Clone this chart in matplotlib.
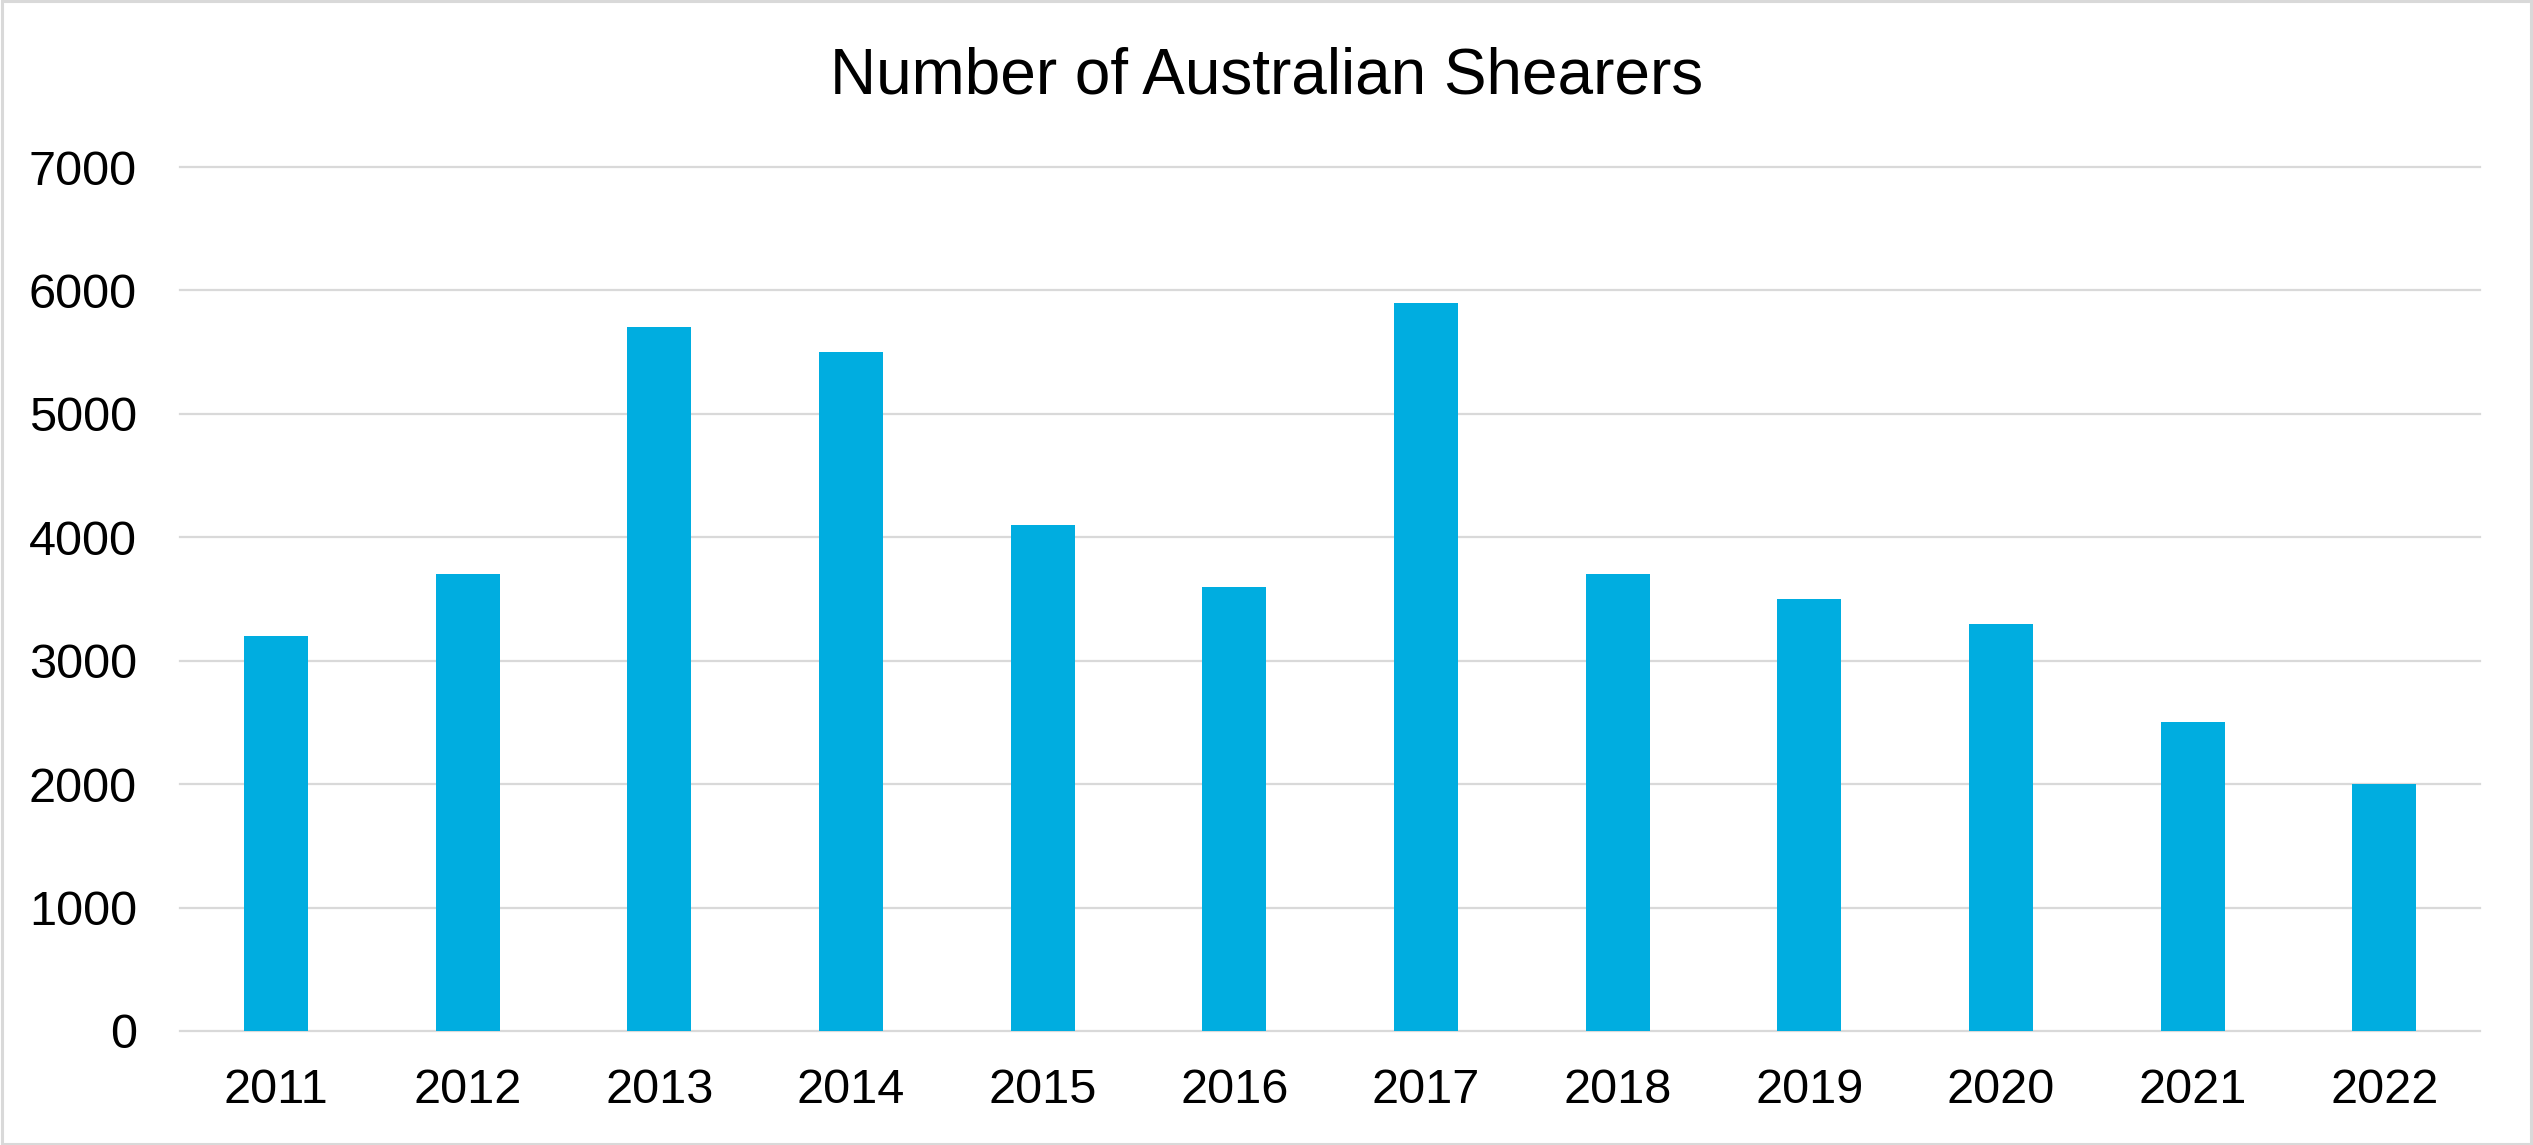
import matplotlib
matplotlib.use("Agg")
import matplotlib.pyplot as plt
from matplotlib.patches import Rectangle

years = ["2011", "2012", "2013", "2014", "2015", "2016",
         "2017", "2018", "2019", "2020", "2021", "2022"]
shearers = [3200, 3700, 5700, 5500, 4100, 3600, 5900, 3700, 3500, 3300, 2500, 2000]
y_ticks = [0, 1000, 2000, 3000, 4000, 5000, 6000, 7000]

plt.rcParams["font.family"] = ["Liberation Sans", "DejaVu Sans"]

fig = plt.figure(figsize=(25.33, 11.45), dpi=100)
ax = fig.add_axes([0.0711, 0.0996, 0.908, 0.7545])

x = list(range(len(years)))
ax.bar(x, shearers, width=1 / 3, color="#00ADE0", zorder=3)

ax.set_xlim(-0.5, len(years) - 0.5)
ax.set_ylim(0, 7000)
ax.set_yticks(y_ticks)
ax.set_yticklabels([str(v) for v in y_ticks])
ax.set_xticks(x)
ax.set_xticklabels(years)

ax.tick_params(axis="both", length=0, labelsize=35, colors="black")
ax.tick_params(axis="y", pad=31)
ax.tick_params(axis="x", pad=27)

ax.set_axisbelow(True)
ax.yaxis.grid(True, color="#D9D9D9", linewidth=1.6)
for gl in ax.get_ygridlines():
    gl.set_clip_on(False)
for s in ax.spines.values():
    s.set_visible(False)

fig.text(0.5, 1 - 77 / 1145, "Number of Australian Shearers",
         ha="center", va="center", fontsize=46, color="black")

# outer chart border
fig.patches.append(Rectangle((0.0008, 0.0012), 0.9984, 0.9976, transform=fig.transFigure,
                             fill=False, edgecolor="#D9D9D9", linewidth=2.2))

fig.savefig("out.png", dpi=100, facecolor="white")
